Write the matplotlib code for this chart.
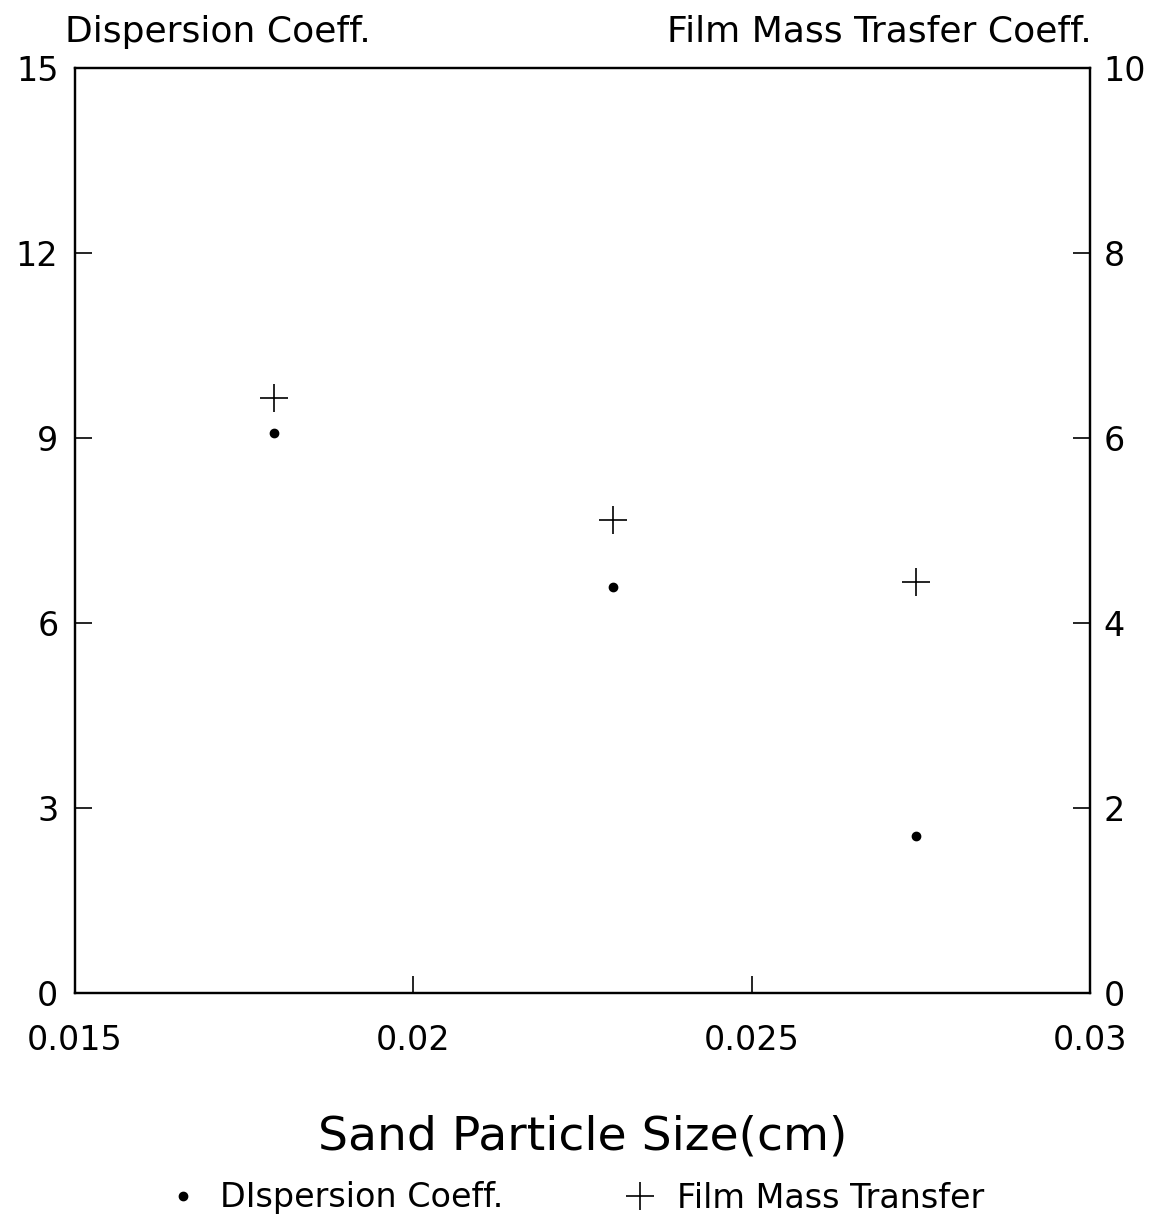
import matplotlib
matplotlib.use("Agg")
import matplotlib.pyplot as plt

# Data
particle_size = [0.01794, 0.02295, 0.02743]
dispersion_coeff = [9.08, 6.58, 2.55]
film_mass_transfer = [6.44, 5.12, 4.44]

x_ticks = [0.015, 0.02, 0.025, 0.03]
x_tick_labels = ["0.015", "0.02", "0.025", "0.03"]
left_ticks = [0, 3, 6, 9, 12, 15]
right_ticks = [0, 2, 4, 6, 8, 10]

plt.rcParams['font.family'] = ['DejaVu Sans']

fig = plt.figure(figsize=(11.69, 12.2), dpi=100)
ax = fig.add_axes([0.0642, 0.186, 0.8682, 0.758])
ax2 = ax.twinx()

d_line, = ax.plot(particle_size, dispersion_coeff, linestyle='none', marker='o',
                  markersize=6, color='black', label='DIspersion Coeff.')
f_line, = ax2.plot(particle_size, film_mass_transfer, linestyle='none', marker='+',
                   markersize=20, markeredgewidth=1.2, color='black', label='Film Mass Transfer')

ax.set_xlim(0.015, 0.03)
ax.set_ylim(0, 15)
ax2.set_ylim(0, 10)
ax.set_xticks(x_ticks)
ax.set_xticklabels(x_tick_labels)
ax.set_yticks(left_ticks)
ax2.set_yticks(right_ticks)

for a in (ax, ax2):
    for s in a.spines.values():
        s.set_linewidth(1.6)
ax.tick_params(axis='both', direction='in', length=12, width=1.2, labelsize=24, pad=12)
ax.tick_params(axis='x', pad=22)
ax2.tick_params(axis='y', direction='in', length=12, width=1.2, labelsize=24, pad=10)

ax.set_xlabel('Sand Particle Size(cm)', fontsize=34, labelpad=42)

fig.text(65/1169, 1 - 32/1220, 'Dispersion Coeff.', fontsize=26, ha='left', va='center')
fig.text(1092/1169, 1 - 32/1220, 'Film Mass Trasfer Coeff.', fontsize=26, ha='right', va='center')

fig.legend(handles=[d_line, f_line], loc='center', bbox_to_anchor=(0.492, 1 - 1198/1220),
           ncol=2, frameon=False, fontsize=24, columnspacing=3.6, handletextpad=0.6,
           handlelength=1.0)

fig.savefig('out.png', dpi=100)
